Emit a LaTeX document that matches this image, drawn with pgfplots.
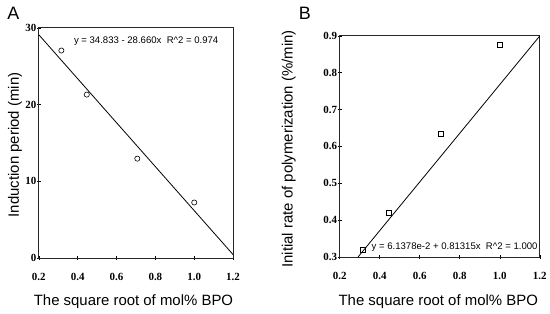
\documentclass[border=0pt]{standalone}
\usepackage{pgfplots}
\pgfplotsset{compat=1.18}
\usepackage{fontspec}
\setmainfont{Liberation Sans}
\newfontfamily\tnr{Liberation Serif}
\begin{document}
\begin{tikzpicture}
\path (0pt,0pt) rectangle (550pt,315pt);
\pgfplotsset{every axis/.style={
  scale only axis, anchor=south west,
  axis line style={line width=0.8pt, black!85},
  tick style={black, line width=0.6pt},
  major tick length=4pt,
  tick align=center,
  xtick pos=bottom, ytick pos=left,
  xmin=0.2, xmax=1.2,
  xtick={0.2,0.4,...,1.2},
  xticklabels={0.2,0.4,0.6,0.8,1.0,1.2},
  tick label style={font=\tnr\bfseries\fontsize{11}{11}\selectfont},
  /pgf/number format/assume math mode=true,
  xticklabel style={yshift=-10pt},
  yticklabel shift=-3pt,
}}
% Panel A
\node[font=\fontsize{18}{18}\selectfont, anchor=center] at (13.5pt,301.5pt) {A};
\begin{axis}[at={(39pt,56pt)}, width=195pt, height=231pt,
  ymin=0, ymax=30, ytick={0,10,20,30}]
\addplot[black, line width=0.8pt, no markers] coordinates {(0.2,29.101) (1.2,0.441)};
\addplot[only marks, mark=o, mark size=2.6pt, mark options={line width=0.6pt}, black] coordinates {
(0.316,27.05) (0.447,21.3) (0.707,12.95) (1.0,7.23)};
\node[anchor=west, font=\fontsize{9.6}{10}\selectfont, inner sep=0pt] at (axis cs:0.38,28.3) {y = 34.833 - 28.660x\ \ R\^{}2 = 0.974};
\end{axis}
\node[rotate=90, font=\fontsize{15}{15}\selectfont] at (15pt,169.5pt) {Induction period (min)};
\node[font=\fontsize{15}{15}\selectfont] at (134pt,12pt) {The square root of mol\% BPO};
% Panel B
\node[font=\fontsize{18}{18}\selectfont, anchor=center] at (306pt,301.5pt) {B};
\begin{axis}[at={(341pt,57pt)}, width=201pt, height=222pt,
  ymin=0.3, ymax=0.9, ytick={0.3,0.4,0.5,0.6,0.7,0.8,0.9},
  yticklabels={0.3,0.4,0.5,0.6,0.7,0.8,0.9}]
\addplot[black, line width=0.8pt, no markers] coordinates {(0.292,0.3) (1.2,0.9)};
\addplot[only marks, mark=square, mark size=2.5pt, mark options={line width=0.6pt}, black] coordinates {
(0.316,0.319) (0.447,0.419) (0.707,0.635) (1.0,0.876)};
\node[anchor=west, font=\fontsize{9.6}{10}\selectfont, inner sep=0pt] at (axis cs:0.359,0.327) {y = 6.1378e-2 + 0.81315x\ \ R\^{}2 = 1.000};
\end{axis}
\node[rotate=90, font=\fontsize{15}{15}\selectfont] at (290pt,165.5pt) {Initial rate of polymerization (\%/min)};
\node[font=\fontsize{15}{15}\selectfont] at (440pt,12pt) {The square root of mol\% BPO};
\end{tikzpicture}
\end{document}
